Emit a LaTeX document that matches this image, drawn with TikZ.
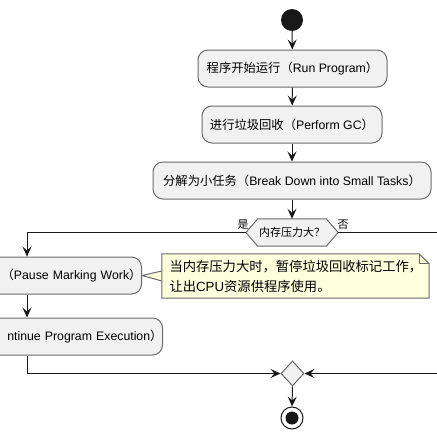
\documentclass[tikz,border=0pt]{standalone}
\usepackage{fontspec}
\setmainfont{Liberation Sans}
\newfontfamily\cjk{Noto Sans CJK SC}
\usetikzlibrary{arrows.meta,shapes.geometric,backgrounds}
\definecolor{boxfill}{HTML}{F1F1F1}
\definecolor{boxline}{HTML}{6A6A6A}
\definecolor{linecol}{HTML}{181818}
\definecolor{notefill}{HTML}{FEFFDD}
\tikzset{
  actbox/.style={draw=boxline, fill=boxfill, rounded corners=10pt, line width=1pt,
    minimum height=37pt, inner sep=0pt, font=\fontsize{12.3}{14}\selectfont},
  cutbox/.style={actbox, text width=200pt, align=right, anchor=east},
  arr/.style={draw=linecol, line width=1pt, -{Stealth[length=10pt,width=9pt,inset=4pt]}},
  small/.style={font=\fontsize{11}{13}\selectfont, inner sep=0pt},
  notebody/.style={draw=boxline, fill=notefill, line width=1pt},
}
\begin{document}
\begin{tikzpicture}[x=1pt,y=-1pt]
\useasboundingbox (0,0) rectangle (437,437);
\clip (0,0) rectangle (437,437);

% start
\node[circle, fill=linecol, minimum size=22pt, inner sep=0pt] (start) at (292,20) {};

% activities
\node[actbox, minimum width=189pt] (b1) at (292.5,68.5) {{\cjk 程序开始运行（}Run Program{\cjk ）}};
\node[actbox, minimum width=180pt] (b2) at (292,124.5) {{\cjk 进行垃圾回收（}Perform GC{\cjk ）}};
\node[actbox, minimum width=278pt] (b3) at (292,180.5) {{\cjk 分解为小任务（}Break Down into Small Tasks{\cjk ）}};

% condition
\node[small, minimum width=92pt, minimum height=27pt] (cond) at (292,232.5) {};
\filldraw[draw=boxline, fill=boxfill, line width=1pt]
  (cond.west) -- ([xshift=12pt]cond.north west) -- ([xshift=-12pt]cond.north east)
  -- (cond.east) -- ([xshift=-12pt]cond.south east) -- ([xshift=12pt]cond.south west) -- cycle;
\node[small] (condtext) at (cond.center) {\cjk 内存压力大？};
\node[small] (yes) at (243,225) {\cjk 是};
\node[small] (no) at (343,225) {\cjk 否};

% branch boxes (cut at the left edge)
\node[cutbox] (b4) at (142,275.5) {{\cjk（}Pause Marking Work{\cjk ）}\hspace*{14pt}};
\node[cutbox] (b5) at (163,336.5) {ntinue Program Execution{\cjk ）}\hspace*{13pt}};

% note
\node[font=\fontsize{13.3}{20}\selectfont, text width=262pt, align=left, inner sep=0pt,
      minimum height=44pt, minimum width=267pt] (note) at (295.5,276)
  {\hspace*{5pt}{\cjk 当内存压力大时，暂停垃圾回收标记工作，}\\\hspace*{5pt}{\cjk 让出}CPU{\cjk 资源供程序使用。}};
\begin{scope}[on background layer]
\fill[white] (0,0) rectangle (437,437);
\filldraw[notebody]
  ([yshift=-5pt]note.west) -- (b4.east) -- ([yshift=5pt]note.west);
\filldraw[notebody]
  (note.north west) -- ([xshift=-10pt]note.north east) -- ([yshift=-10pt]note.north east)
  -- (note.south east) -- (note.south west) -- cycle;
\draw[boxline, line width=1pt] ([xshift=-10pt]note.north east) |- ([yshift=-10pt]note.north east);
\end{scope}

% merge and end
\node[diamond, draw=boxline, fill=boxfill, line width=1pt, minimum width=23pt,
      minimum height=25pt, inner sep=0pt] (merge) at (292.5,373.5) {};
\node[circle, draw=linecol, fill=white, line width=1pt, minimum size=22pt, inner sep=0pt] (end) at (292,418) {};
\fill[linecol] (end.center) circle (6.5pt);

\coordinate (lc) at (27,232.5);
\coordinate (rc) at (445,232.5);

% connectors
\draw[arr] (start) -- (b1);
\draw[arr] (b1) -- (b2);
\draw[arr] (b2) -- (b3);
\draw[arr] (b3.south) -- (cond.north);
\draw[arr] (cond.west) -- (lc) -- (lc |- b4.north);
\draw[arr] (lc |- b4.south) -- (lc |- b5.north);
\draw[arr] (lc |- b5.south) -- (lc |- merge.west) -- (merge.west);
\draw[arr] (cond.east) -- (rc) -- (rc |- merge.east) -- (merge.east);
\draw[arr] (merge.south) -- (end.north);
\end{tikzpicture}
\end{document}
